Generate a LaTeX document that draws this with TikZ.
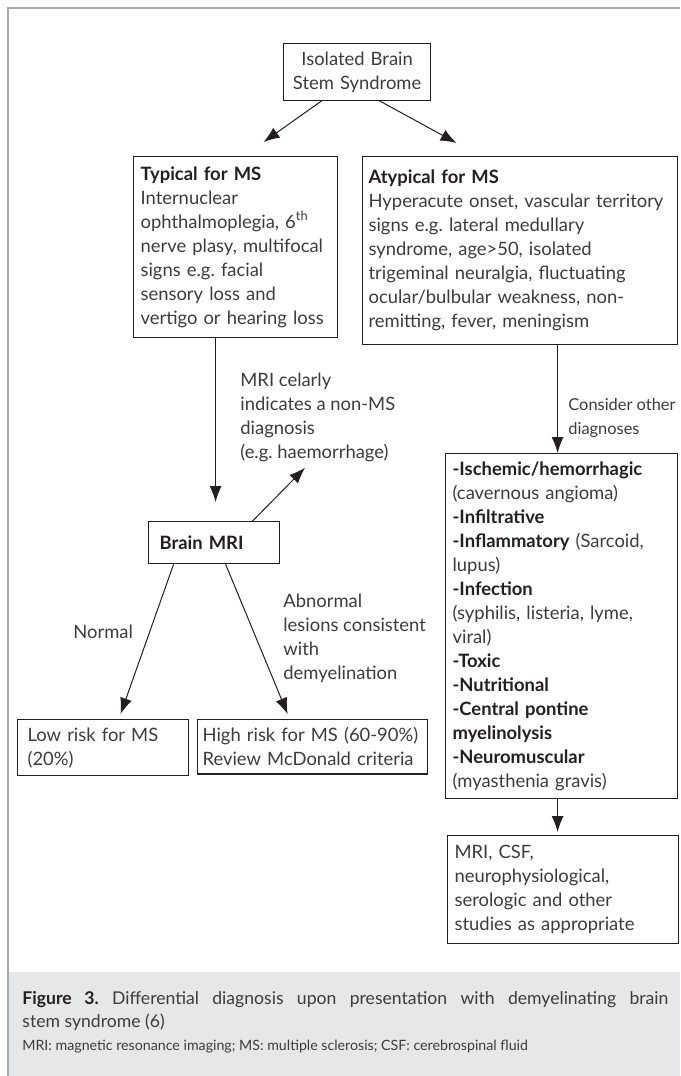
\documentclass[tikz,border=0pt]{standalone}
\usepackage{fontspec}
\setmainfont{Lato}
\usetikzlibrary{arrows.meta, positioning}
\definecolor{inkgray}{HTML}{231F20}
\definecolor{textgray}{HTML}{3C3C3E}
\definecolor{framegray}{HTML}{A7A9AC}
\definecolor{capgray}{HTML}{E6E7E8}
\newcommand{\bodyfont}{\fontsize{9.2}{12}\selectfont}
\tikzset{
	>={Latex[length=8pt,width=6pt]}, % filled arrow heads
	box/.style={draw=inkgray, line width=0.6pt, anchor=north west, align=left, inner xsep=3.5pt, inner ysep=4pt, font=\bodyfont, text=textgray}, % every framed box
	lbl/.style={anchor=base west, align=left, inner sep=0pt, font=\bodyfont, text=textgray}, % text beside a connector, placed by its last line
	conn/.style={->, draw=inkgray, line width=0.5pt}, % connectors
}
\newcommand{\hd}[1]{{\bfseries\color{inkgray}#1}}

\begin{document}
\frenchspacing
\begin{tikzpicture}[x=0.5pt, y=-0.5pt]
	\useasboundingbox (0,0) rectangle (680,1076);
	\fill[capgray] (8,972) rectangle (680,1076);
	\draw[framegray, line width=1pt] (680,8) -- (8,8) -- (8,1076);

	\node[box, align=center, text width=66.5pt, minimum height=27.5pt] (isolated) at (283,43) {Isolated Brain\\Stem Syndrome};
	\node[box, text width=95pt, minimum height=90.5pt] (typical) at (133,156) {\hd{Typical for MS}\\Internuclear\\ophthalmoplegia, 6\textsuperscript{th}\\nerve plasy, multifocal\\signs e.g. facial\\sensory loss and\\vertigo or hearing loss};
	\node[box, inner xsep=3pt, text width=151.5pt, minimum height=94pt] (atypical) at (362,156) {\hd{Atypical for MS}\\Hyperacute onset, vascular territory\\signs e.g. lateral medullary\\syndrome, age>50, isolated\\trigeminal neuralgia, fluctuating\\ocular/bulbular weakness, non-\\remitting, fever, meningism};
	\node[box, inner xsep=5.5pt, text width=54.5pt, minimum height=21pt] (mri) at (148,521) {\hd{Brain MRI}};
	\node[box, inner xsep=5pt, text width=75.5pt, minimum height=27pt] (low) at (17,719) {Low risk for MS\\(20\%)};
	\node[box, inner xsep=2.5pt, text width=110pt, minimum height=27pt] (high) at (197,719) {High risk for MS (60-90\%)\\Review McDonald criteria};
	\node[box, text width=109pt, minimum height=172pt] (other) at (445,453) {\hd{-Ischemic/hemorrhagic}\\(cavernous angioma)\\\hd{-Infiltrative}\\\hd{-Inflammatory} (Sarcoid,\\lupus)\\\hd{-Infection}\\(syphilis, listeria, lyme,\\viral)\\\hd{-Toxic}\\\hd{-Nutritional}\\\hd{-Central pontine}\\\hd{myelinolysis}\\\hd{-Neuromuscular}\\(myasthenia gravis)};
	\node[box, text width=108.5pt, minimum height=54pt] (studies) at (447,835) {MRI, CSF,\\neurophysiological,\\serologic and other\\studies as appropriate};

	\node[lbl] (nonms) at (240,458) {MRI celarly\\indicates a non-MS\\diagnosis\\(e.g. haemorrhage)};
	\node[lbl, font=\fontsize{8.2}{12}\selectfont] (consider) at (568,434) {Consider other\\diagnoses};
	\node[lbl] (normal) at (73,638) {Normal};
	\node[lbl] (abnormal) at (283,679) {Abnormal\\lesions consistent\\with\\demyelination};

	\draw[conn] ([shift={(-35.5,0)}]isolated.south) -- ([shift={(28,-14)}]typical.north);
	\draw[conn] ([shift={(22.5,0)}]isolated.south) -- ([shift={(-63.5,-13)}]atypical.north);
	\draw[conn] ([shift={(-20,0)}]typical.south) -- ([shift={(1.5,-19)}]mri.north);
	\draw[conn] ([shift={(38.5,0)}]mri.north) -- ([shift={(65,6)}]nonms.south west);
	\draw[conn] ([shift={(-40.5,0)}]mri.south) -- ([shift={(17.5,-5)}]low.north);
	\draw[conn] ([shift={(11.5,0)}]mri.south) -- ([shift={(-25,-5)}]high.north);
	\draw[conn] ([shift={(37.5,0)}]atypical.south) -- ([shift={(-4,0)}]other.north);
	\draw[conn] ([shift={(-4,0)}]other.south) -- ([shift={(-5.5,-3)}]studies.north);

	\node[anchor=base west, inner sep=0pt, text width=323pt, align=justify, font=\fontsize{8.8}{11.5}\selectfont, text=textgray] (caption) at (22,1004) {\hd{Figure 3.} Differential diagnosis upon presentation with demyelinating brain\linebreak stem syndrome (6)};
	\node[anchor=base west, inner sep=0pt, font=\fontsize{7.1}{8}\selectfont, text=textgray] (abbrev) at (22,1050) {MRI: magnetic resonance imaging; MS: multiple sclerosis; CSF: cerebrospinal fluid};
\end{tikzpicture}
\end{document}
